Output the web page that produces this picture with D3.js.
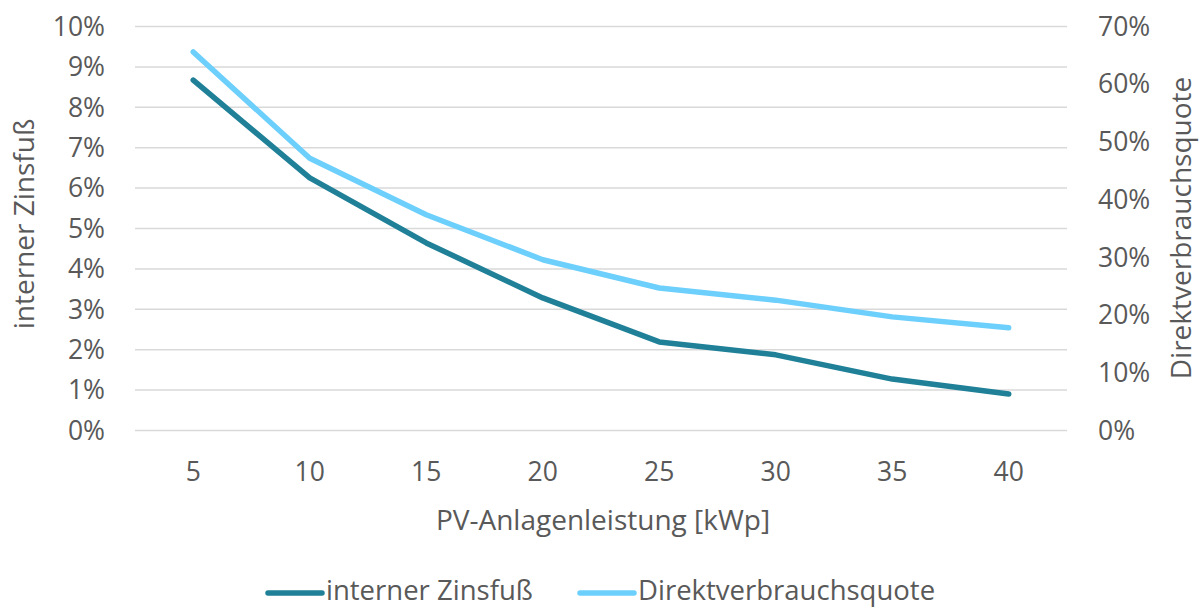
<!DOCTYPE html>
<html><head><meta charset="utf-8">
<script src="https://cdn.jsdelivr.net/npm/d3@7"></script>
<style>body{margin:0;background:#fff}svg{display:block}text{font-family:"Open Sans",sans-serif;fill:#595959}</style>
</head><body><svg id="c" width="1199" height="609"></svg>
<script>
const categories = [5, 10, 15, 20, 25, 30, 35, 40];
const internerZinsfuss = [8.66, 6.24, 4.63, 3.27, 2.18, 1.86, 1.26, 0.89];
const direktverbrauchsquote = [65.5, 47.1, 37.3, 29.5, 24.6, 22.5, 19.6, 17.7];
const leftTicks = [0,1,2,3,4,5,6,7,8,9,10];
const rightTicks = [0,10,20,30,40,50,60,70];
const seriesNames = ["interner Zinsfuß", "Direktverbrauchsquote"];
const colors = ["#1F8098", "#6DCFFB"];

const svg = d3.select("#c");
const L = 135, R = 1067, T = 26, B = 430;
const x = d3.scaleBand().domain(categories).range([L, R]);
const yL = d3.scaleLinear().domain([0, 10]).range([B, T]);
const yR = d3.scaleLinear().domain([0, 70]).range([B, T]);
const fsTick = 26.5, fs = 28, fsLeg = 27.5;

// gridlines
const gl = svg.append("g").call(d3.axisLeft(yL).tickValues(leftTicks).tickSize(-(R - L)).tickFormat(""))
  .attr("transform", `translate(${L},0)`);
gl.select(".domain").remove();
gl.selectAll("line").attr("stroke", "#d9d9d9").attr("stroke-width", 1.5);

// left axis labels
const ax = svg.append("g").attr("transform", `translate(105,0)`)
  .call(d3.axisLeft(yL).tickValues(leftTicks).tickSize(0).tickFormat(d => d + "%"));
ax.select(".domain").remove();
ax.selectAll("text").attr("font-size", fsTick).attr("font-family", "Open Sans").attr("fill", "#595959").attr("dy", "0.35em").attr("x", 0);

// right axis labels
const ar = svg.append("g").attr("transform", `translate(1098,0)`)
  .call(d3.axisRight(yR).tickValues(rightTicks).tickSize(0).tickFormat(d => d + "%"));
ar.select(".domain").remove();
ar.selectAll("text").attr("font-size", fsTick).attr("font-family", "Open Sans").attr("fill", "#595959").attr("dy", "0.35em").attr("x", 0);

// x axis labels
const axb = svg.append("g").attr("transform", `translate(0,472)`)
  .call(d3.axisBottom(x).tickSize(0));
axb.select(".domain").remove();
axb.selectAll("text").attr("font-size", fsTick).attr("font-family", "Open Sans").attr("fill", "#595959").attr("y", 0).attr("dy", "0.35em");

// axis titles
svg.append("text").attr("x", 603).attr("y", 520).attr("dy", "0.35em").attr("text-anchor", "middle").attr("font-size", fs).text("PV-Anlagenleistung [kWp]");
svg.append("text").attr("transform", `translate(24,224) rotate(-90)`).attr("dy", "0.35em").attr("text-anchor", "middle").attr("font-size", fs).text("interner Zinsfuß");
svg.append("text").attr("transform", `translate(1181,228) rotate(-90)`).attr("dy", "0.35em").attr("text-anchor", "middle").attr("font-size", fs).text("Direktverbrauchsquote");

// lines
const cx = d => x(d) + x.bandwidth() / 2;
const lineL = d3.line().x((d, i) => cx(categories[i])).y(d => yL(d));
const lineR = d3.line().x((d, i) => cx(categories[i])).y(d => yR(d));
svg.append("path").datum(direktverbrauchsquote).attr("d", lineR).attr("fill", "none")
  .attr("stroke", colors[1]).attr("stroke-width", 5.5).attr("stroke-linejoin", "round").attr("stroke-linecap", "round");
svg.append("path").datum(internerZinsfuss).attr("d", lineL).attr("fill", "none")
  .attr("stroke", colors[0]).attr("stroke-width", 5.5).attr("stroke-linejoin", "round").attr("stroke-linecap", "round");

// legend
const leg = [{x: 268, name: seriesNames[0], c: colors[0]}, {x: 580, name: seriesNames[1], c: colors[1]}];
leg.forEach(l => {
  svg.append("line").attr("x1", l.x).attr("x2", l.x + 54).attr("y1", 593).attr("y2", 593)
    .attr("stroke", l.c).attr("stroke-width", 5.5).attr("stroke-linecap", "round");
  svg.append("text").attr("x", l.x + 58).attr("y", 590).attr("dy", "0.35em").attr("font-size", fsLeg).text(l.name);
});
</script></body></html>
